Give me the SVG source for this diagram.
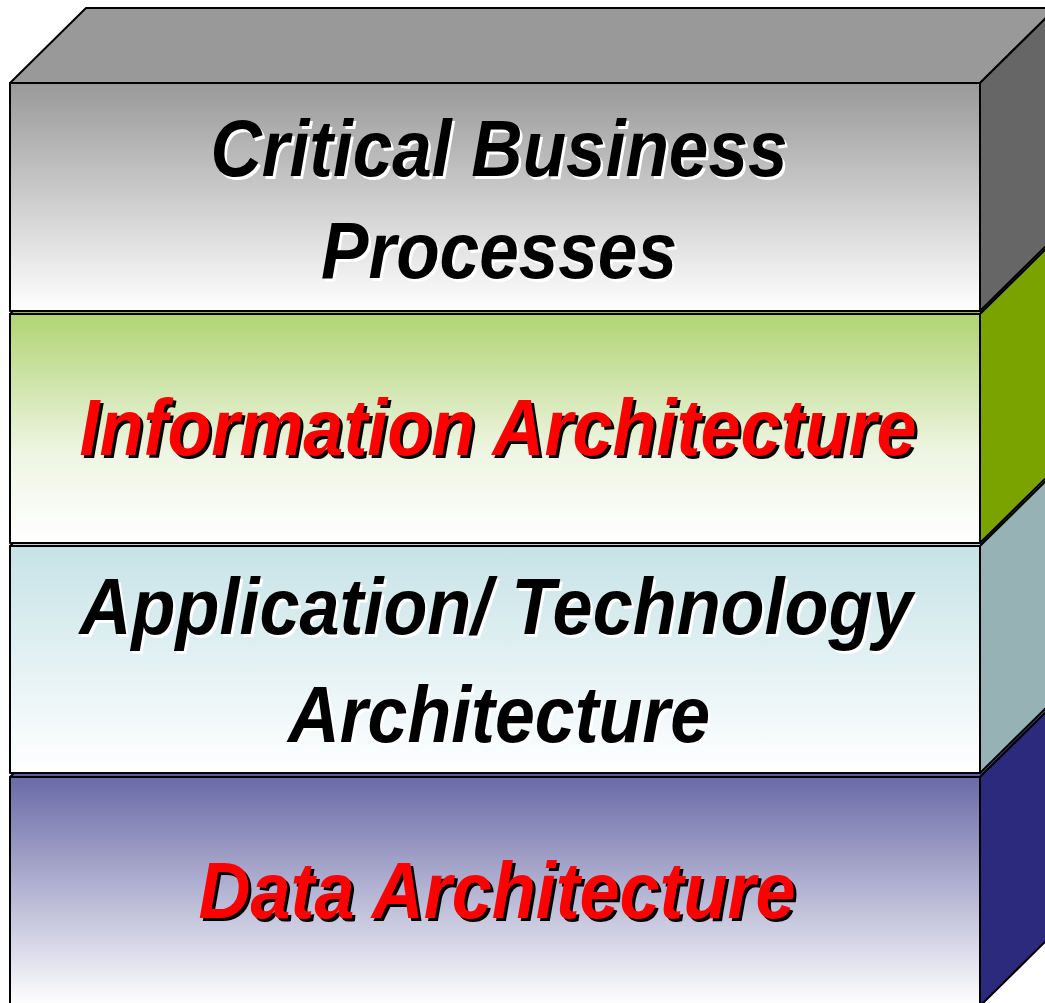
<svg xmlns="http://www.w3.org/2000/svg" width="1045" height="1003" viewBox="0 0 1045 1003">
<defs>
<linearGradient id="g1" x1="0" y1="0" x2="0" y2="1"><stop offset="0" stop-color="#999999"/><stop offset="1" stop-color="#ffffff"/></linearGradient>
<linearGradient id="g2" x1="0" y1="0" x2="0" y2="1"><stop offset="0" stop-color="#b0d472"/><stop offset="0.6" stop-color="#eef5e2"/><stop offset="1" stop-color="#ffffff"/></linearGradient>
<linearGradient id="g3" x1="0" y1="0" x2="0" y2="1"><stop offset="0" stop-color="#c6e3e7"/><stop offset="1" stop-color="#ffffff"/></linearGradient>
<linearGradient id="g4" x1="0" y1="0" x2="0" y2="1"><stop offset="0" stop-color="#6a6aa8"/><stop offset="1" stop-color="#ffffff"/></linearGradient>
<style>
.e{stroke:#000;stroke-width:2;stroke-linejoin:round}
.t{font-family:"Liberation Sans",Arial,sans-serif;font-weight:bold;font-style:italic;font-size:80px;text-anchor:middle}
.blk{fill:#000}
.wsh{fill:#fff}
.red{fill:#ff0000}
.bsh{fill:#000}
</style>
</defs>
<rect width="1045" height="1003" fill="#ffffff"/>
<g id="layer-data">
<polygon class="e" points="10,777 86,702 1056,702 980,777" fill="#5a5aaa"/>
<polygon class="e" points="980,777 1056,702 1056,931 980,1006" fill="#2b2a7c"/>
<rect class="e" x="10" y="777" width="970" height="229" fill="url(#g4)"/>
<text class="t bsh" x="500" y="921" textLength="597" lengthAdjust="spacingAndGlyphs">Data Architecture</text>
<text class="t red" x="497" y="918" textLength="597" lengthAdjust="spacingAndGlyphs">Data Architecture</text>
</g>
<g id="layer-application">
<polygon class="e" points="10,546 86,471 1056,471 980,546" fill="#b9d2d6"/>
<polygon class="e" points="980,546 1056,471 1056,698 980,773" fill="#96b2b5"/>
<rect class="e" x="10" y="546" width="970" height="227" fill="url(#g3)"/>
<text class="t wsh" x="498.5" y="636.5" textLength="833" lengthAdjust="spacingAndGlyphs">Application/ Technology</text>
<text class="t blk" x="496" y="634" textLength="833" lengthAdjust="spacingAndGlyphs">Application/ Technology</text>
<text class="t wsh" x="501.5" y="744.5" textLength="422" lengthAdjust="spacingAndGlyphs">Architecture</text>
<text class="t blk" x="499" y="742" textLength="422" lengthAdjust="spacingAndGlyphs">Architecture</text>
</g>
<g id="layer-information">
<polygon class="e" points="10,314 86,239 1056,239 980,314" fill="#98be3a"/>
<polygon class="e" points="980,314 1056,239 1056,468 980,543" fill="#7ba300"/>
<rect class="e" x="10" y="314" width="970" height="229" fill="url(#g2)"/>
<text class="t bsh" x="501" y="458" textLength="837" lengthAdjust="spacingAndGlyphs">Information Architecture</text>
<text class="t red" x="498" y="455" textLength="837" lengthAdjust="spacingAndGlyphs">Information Architecture</text>
</g>
<g id="layer-business">
<polygon class="e" points="10,83 86,8 1056,8 980,83" fill="#999999"/>
<polygon class="e" points="980,83 1056,8 1056,236 980,311" fill="#666666"/>
<rect class="e" x="10" y="83" width="970" height="228" fill="url(#g1)"/>
<text class="t wsh" x="501.5" y="178.5" textLength="577" lengthAdjust="spacingAndGlyphs">Critical Business</text>
<text class="t blk" x="499" y="176" textLength="577" lengthAdjust="spacingAndGlyphs">Critical Business</text>
<text class="t wsh" x="501.5" y="280.5" textLength="356" lengthAdjust="spacingAndGlyphs">Processes</text>
<text class="t blk" x="499" y="278" textLength="356" lengthAdjust="spacingAndGlyphs">Processes</text>
</g>
<g id="connectors"/>
</svg>
